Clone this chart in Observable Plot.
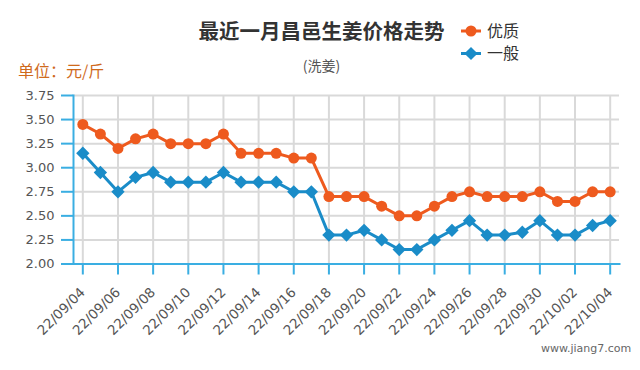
<!DOCTYPE html>
<html>
<head>
<meta charset="utf-8">
<script src="https://cdn.jsdelivr.net/npm/d3@7"></script>
<script src="https://cdn.jsdelivr.net/npm/@observablehq/plot@0.6"></script>
<style>
  body { margin: 0; background: #fff; }
  #wrap { position: relative; width: 640px; height: 370px; overflow: hidden; font-family: "Noto Sans CJK SC", "DejaVu Sans", sans-serif; }
  #wrap svg { position: absolute; left: 0; top: 0; }
  .abs { position: absolute; white-space: nowrap; line-height: 1; }
</style>
</head>
<body>
<div id="wrap">
  <div class="abs" id="title" style="left:0;width:643px;text-align:center;top:20px;font-size:20.5px;font-weight:bold;color:#333;">最近一月昌邑生姜价格走势</div>
  <div class="abs" id="sub" style="left:0;width:643px;text-align:center;top:58px;font-size:14px;color:#555;">(洗姜)</div>
  <div class="abs" id="unit" style="left:18px;top:62px;font-size:16px;color:#cf6a1c;">单位：元/斤</div>
  <div class="abs" id="wm" style="left:541px;top:343px;font-size:11px;color:#666;font-family:'DejaVu Sans',sans-serif;">www.jiang7.com</div>
</div>
<script>
const dates = ["22/09/04","22/09/05","22/09/06","22/09/07","22/09/08","22/09/09","22/09/10","22/09/11","22/09/12","22/09/13","22/09/14","22/09/15","22/09/16","22/09/17","22/09/18","22/09/19","22/09/20","22/09/21","22/09/22","22/09/23","22/09/24","22/09/25","22/09/26","22/09/27","22/09/28","22/09/29","22/09/30","22/10/01","22/10/02","22/10/03","22/10/04"];
const premium = [3.45,3.35,3.20,3.30,3.35,3.25,3.25,3.25,3.35,3.15,3.15,3.15,3.10,3.10,2.70,2.70,2.70,2.60,2.50,2.50,2.60,2.70,2.75,2.70,2.70,2.70,2.75,2.65,2.65,2.75,2.75];
const normal = [3.15,2.95,2.75,2.90,2.95,2.85,2.85,2.85,2.95,2.85,2.85,2.85,2.75,2.75,2.30,2.30,2.35,2.25,2.15,2.15,2.25,2.35,2.45,2.30,2.30,2.33,2.45,2.30,2.30,2.40,2.45];
const seriesNames = ["优质","一般"];
const seriesColors = ["#ee5a1e","#1a8cc8"];
const xTicks = ["22/09/04","22/09/06","22/09/08","22/09/10","22/09/12","22/09/14","22/09/16","22/09/18","22/09/20","22/09/22","22/09/24","22/09/26","22/09/28","22/09/30","22/10/02","22/10/04"];
const yTicks = [2.00,2.25,2.50,2.75,3.00,3.25,3.50,3.75];

const axisBlue = "#3aaee2";
const rowsP = dates.map((d,i)=>({date:d, value:premium[i]}));
const rowsN = dates.map((d,i)=>({date:d, value:normal[i]}));

const chart = Plot.plot({
  width: 640, height: 370,
  marginLeft: 73, marginRight: 21, marginTop: 95, marginBottom: 106.5,
  style: {fontFamily: "'DejaVu Sans', sans-serif", fontSize: "13px", background: "transparent"},
  x: {type: "point", domain: dates, padding: 0.53, round: false, label: null},
  y: {domain: [2, 3.75], label: null},
  marks: [
    Plot.gridX(xTicks, {stroke: "#d9d9d9", strokeWidth: 2, strokeOpacity: 1}),
    Plot.gridY(yTicks, {stroke: "#d9d9d9", strokeWidth: 2, strokeOpacity: 1}),
    Plot.frame({anchor: "left", stroke: axisBlue, strokeWidth: 2}),
    Plot.frame({anchor: "bottom", stroke: axisBlue, strokeWidth: 2}),
    Plot.axisY(yTicks, {tickSize: 12, tickPadding: 7, color: "#555", stroke: axisBlue, strokeWidth: 2, tickFormat: d => d.toFixed(2), fontSize: 13, label: null}),
    Plot.axisX(xTicks, {tickSize: 11, tickPadding: 15, tickRotate: -45, color: "#555", stroke: axisBlue, strokeWidth: 2, fontSize: 13.5, label: null}),
    Plot.line(rowsP, {x: "date", y: "value", stroke: seriesColors[0], strokeWidth: 3}),
    Plot.dot(rowsP, {x: "date", y: "value", fill: seriesColors[0], r: 5.5, symbol: "circle"}),
    Plot.line(rowsN, {x: "date", y: "value", stroke: seriesColors[1], strokeWidth: 3}),
    Plot.dot(rowsN, {x: "date", y: "value", fill: seriesColors[1], r: 6, symbol: "diamond2"})
  ]
});
const wrap = document.getElementById("wrap");
wrap.insertBefore(chart, wrap.firstChild);

// legend
const legend = d3.select(wrap).append("svg").attr("width", 640).attr("height", 370).style("pointer-events","none");
const legY = [31, 53.5];
const symbols = [d3.symbolCircle, d3.symbolDiamond2];
const sizes = [95, 110];
seriesNames.forEach((name, i) => {
  const g = legend.append("g");
  g.append("line").attr("x1", 461).attr("x2", 481).attr("y1", legY[i]).attr("y2", legY[i]).attr("stroke", seriesColors[i]).attr("stroke-width", 3);
  g.append("path").attr("d", d3.symbol(symbols[i], sizes[i])()).attr("transform", `translate(471,${legY[i]})`).attr("fill", seriesColors[i]);
  g.append("text").attr("x", 487).attr("y", legY[i]).attr("dy", "0.36em").attr("font-size", 16).attr("fill", "#333").attr("font-family", "'Noto Sans CJK SC', sans-serif").text(name);
});
</script>
</body>
</html>
